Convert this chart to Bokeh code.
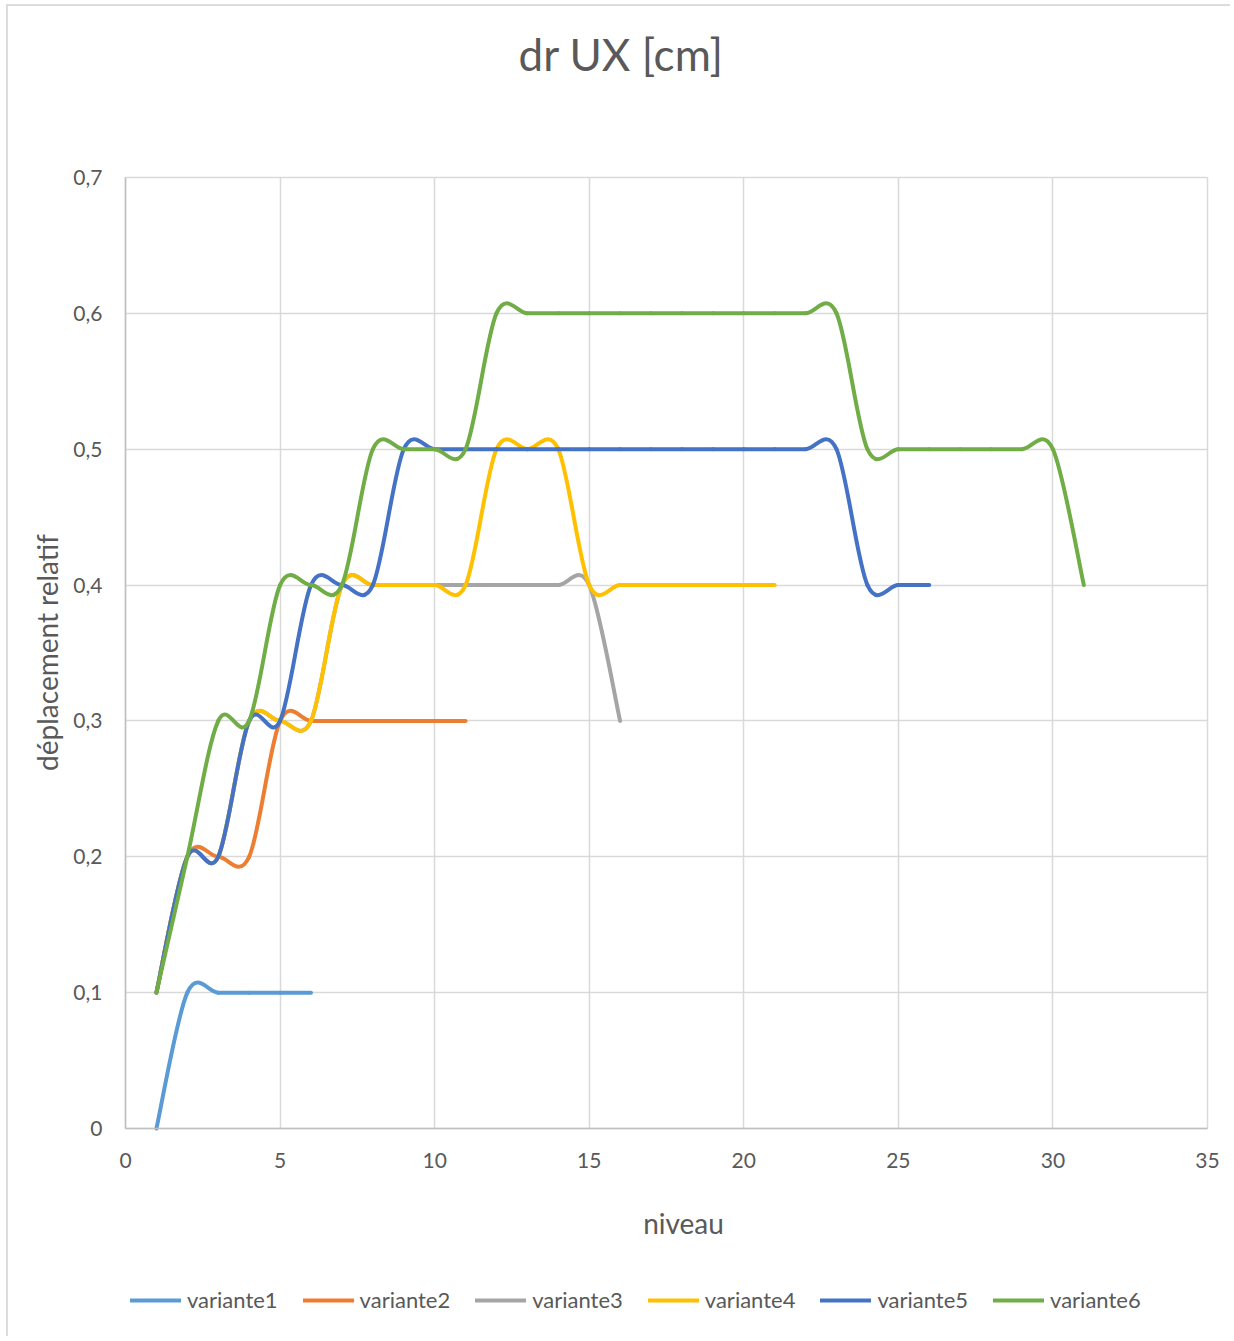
import math
from bokeh.plotting import figure
from bokeh.models import Range1d, FixedTicker, Legend, LegendItem, Title, Label
from bokeh.embed import file_html
from bokeh.resources import INLINE

# ---- data ----
series_names = ["variante1", "variante2", "variante3", "variante4", "variante5", "variante6"]
series_colors = ["#5B9BD5", "#ED7D31", "#A5A5A5", "#FFC000", "#4472C4", "#70AD47"]

variante1 = [0.0, 0.1, 0.1, 0.1, 0.1, 0.1]
variante2 = [0.1, 0.2, 0.2, 0.2, 0.3, 0.3, 0.3, 0.3, 0.3, 0.3, 0.3]
variante3 = [0.1, 0.2, 0.2, 0.3, 0.3, 0.3, 0.4, 0.4, 0.4, 0.4, 0.4, 0.4, 0.4, 0.4, 0.4, 0.3]
variante4 = [0.1, 0.2, 0.2, 0.3, 0.3, 0.3, 0.4, 0.4, 0.4, 0.4, 0.4, 0.5, 0.5, 0.5, 0.4,
             0.4, 0.4, 0.4, 0.4, 0.4, 0.4]
variante5 = [0.1, 0.2, 0.2, 0.3, 0.3, 0.4, 0.4, 0.4, 0.5, 0.5, 0.5, 0.5, 0.5, 0.5, 0.5,
             0.5, 0.5, 0.5, 0.5, 0.5, 0.5, 0.5, 0.5, 0.4, 0.4, 0.4]
variante6 = [0.1, 0.2, 0.3, 0.3, 0.4, 0.4, 0.4, 0.5, 0.5, 0.5, 0.5, 0.6, 0.6, 0.6, 0.6,
             0.6, 0.6, 0.6, 0.6, 0.6, 0.6, 0.6, 0.6, 0.5, 0.5, 0.5, 0.5, 0.5, 0.5, 0.5, 0.4]
series_values = [variante1, variante2, variante3, variante4, variante5, variante6]

x_ticks = [0, 5, 10, 15, 20, 25, 30, 35]
y_ticks = [0, 0.1, 0.2, 0.3, 0.4, 0.5, 0.6, 0.7]
y_tick_labels = ["0", "0,1", "0,2", "0,3", "0,4", "0,5", "0,6", "0,7"]
X_MIN, X_MAX = 0, 35
Y_MIN, Y_MAX = 0, 0.7

TITLE = "dr UX [cm]"
X_TITLE = "niveau"
Y_TITLE = "déplacement relatif"

TEXT = "#595959"
FONT = "Lato"


def smooth_segments(vals):
    """Excel-like smoothed line: cubic Bezier segments through the data points
    (levels 1..N), control points from neighbouring points (Catmull-Rom)."""
    xs = list(range(1, len(vals) + 1))
    ys = list(vals)
    n = len(xs)
    seg = dict(x0=[], y0=[], x1=[], y1=[], cx0=[], cy0=[], cx1=[], cy1=[])
    for i in range(n - 1):
        p0 = (xs[max(i - 1, 0)], ys[max(i - 1, 0)])
        p1 = (xs[i], ys[i])
        p2 = (xs[i + 1], ys[i + 1])
        p3 = (xs[min(i + 2, n - 1)], ys[min(i + 2, n - 1)])
        seg["x0"].append(p1[0]); seg["y0"].append(p1[1])
        seg["x1"].append(p2[0]); seg["y1"].append(p2[1])
        seg["cx0"].append(p1[0] + (p2[0] - p0[0]) / 6.0)
        seg["cy0"].append(p1[1] + (p2[1] - p0[1]) / 6.0)
        seg["cx1"].append(p2[0] - (p3[0] - p1[0]) / 6.0)
        seg["cy1"].append(p2[1] - (p3[1] - p1[1]) / 6.0)
    return seg


# ---- layout (pixels, canvas coordinates) ----
W, H = 1224, 1332
TOP = 171                 # top of the plot area (0.7)
FRAME_TOP = 151           # the frame starts a little above the plot area
PLOT_H = 951              # height of the plot area
LEFT, PLOT_W = 117, 1082  # left edge / width of the plot area
# the frame covers the whole canvas below the title, so that tick labels,
# axis titles and the legend all live inside it; the plot area is a sub-box.
x_per_px = (X_MAX - X_MIN) / PLOT_W
y_per_px = (Y_MAX - Y_MIN) / PLOT_H
x_start = X_MIN - LEFT * x_per_px
x_end = X_MAX + (W - LEFT - PLOT_W) * x_per_px
y_start = Y_MIN - (H - TOP - PLOT_H) * y_per_px
y_end = Y_MAX + (TOP - FRAME_TOP) * y_per_px


def px_x(px):
    return x_start + px * x_per_px


def px_y(py):
    return Y_MAX - (py - TOP) * y_per_px


p = figure(width=W, height=H, output_backend="svg", toolbar_location=None,
           x_range=Range1d(x_start, x_end), y_range=Range1d(y_start, y_end),
           min_border_left=0, min_border_right=0,
           min_border_top=FRAME_TOP, min_border_bottom=0)
p.styles = {"margin-left": "6px", "margin-top": "4px",
            "border-left": "2px solid #dcdcdc", "border-top": "2px solid #dcdcdc"}

p.background_fill_color = "white"
p.border_fill_color = "white"
p.outline_line_color = None

# spacer between the frame and the title
p.add_layout(Title(text=" ", text_font_size="2px", standoff=89 - (TOP - FRAME_TOP)), "above")

# title
p.title.text = TITLE
p.title.text_font = FONT
p.title.text_font_size = "44px"
p.title.text_font_style = "normal"
p.title.text_color = TEXT
p.title.align = "left"
p.title.offset = 393 + LEFT
p.title.standoff = 10

# axes (drawn at the plot-area edges)
for ax in (p.xaxis[0], p.yaxis[0]):
    ax.axis_line_color = "#bfbfbf"
    ax.axis_line_width = 1.5
    ax.major_tick_line_color = None
    ax.minor_tick_line_color = None
    ax.major_label_text_font = FONT
    ax.major_label_text_font_size = "21px"
    ax.major_label_text_color = TEXT

p.xaxis.fixed_location = Y_MIN
p.yaxis.fixed_location = X_MIN
p.xaxis.bounds = (X_MIN, X_MAX)
p.yaxis.bounds = (Y_MIN, Y_MAX)
p.xaxis.ticker = FixedTicker(ticks=x_ticks)
p.yaxis.ticker = FixedTicker(ticks=y_ticks)
p.yaxis.major_label_overrides = dict(zip(y_ticks, y_tick_labels))
p.xaxis.major_label_standoff = 18
p.yaxis.major_label_standoff = 17

# axis titles
p.add_layout(Label(x=px_x(675), y=px_y(1216), text=X_TITLE, text_font=FONT,
                   text_font_size="28px", text_color=TEXT, text_align="center",
                   text_baseline="alphabetic"))
p.add_layout(Label(x=px_x(38), y=px_y(646), text=Y_TITLE, text_font=FONT,
                   text_font_size="28px", text_color=TEXT, text_align="center",
                   text_baseline="middle", angle=math.pi / 2))

# grid limited to the plot area
p.xgrid.ticker = FixedTicker(ticks=x_ticks)
p.ygrid.ticker = FixedTicker(ticks=y_ticks)
p.xgrid.bounds = (X_MIN, X_MAX)
p.ygrid.bounds = (Y_MIN, Y_MAX)
use_cross = "cross_bounds" in p.xgrid[0].properties()
if use_cross:
    p.xgrid.cross_bounds = (Y_MIN, Y_MAX)
    p.ygrid.cross_bounds = (X_MIN, X_MAX)
    for g in (p.xgrid[0], p.ygrid[0]):
        g.grid_line_color = "#d9d9d9"
        g.grid_line_width = 1.5
else:
    p.xgrid.visible = False
    p.ygrid.visible = False
    p.segment(x0=x_ticks, y0=[Y_MIN] * len(x_ticks), x1=x_ticks, y1=[Y_MAX] * len(x_ticks),
              line_color="#d9d9d9", line_width=1.5)
    p.segment(x0=[X_MIN] * len(y_ticks), y0=y_ticks, x1=[X_MAX] * len(y_ticks), y1=y_ticks,
              line_color="#d9d9d9", line_width=1.5)

items = []
for name, color, vals in zip(series_names, series_colors, series_values):
    seg = smooth_segments(vals)
    r = p.bezier(x0="x0", y0="y0", x1="x1", y1="y1", cx0="cx0", cy0="cy0",
                 cx1="cx1", cy1="cy1", source=seg, line_color=color,
                 line_width=4, line_cap="round")
    items.append(LegendItem(label=name, renderers=[r]))

legend = Legend(items=items, orientation="horizontal", location=(LEFT + 5, 25),
                glyph_width=51, glyph_height=20, label_standoff=6, spacing=25,
                padding=5, margin=0, border_line_color=None,
                background_fill_alpha=0,
                label_text_font=FONT, label_text_font_size="22px",
                label_text_color=TEXT)
p.add_layout(legend)

open("out.html", "w").write(file_html(p, INLINE))
